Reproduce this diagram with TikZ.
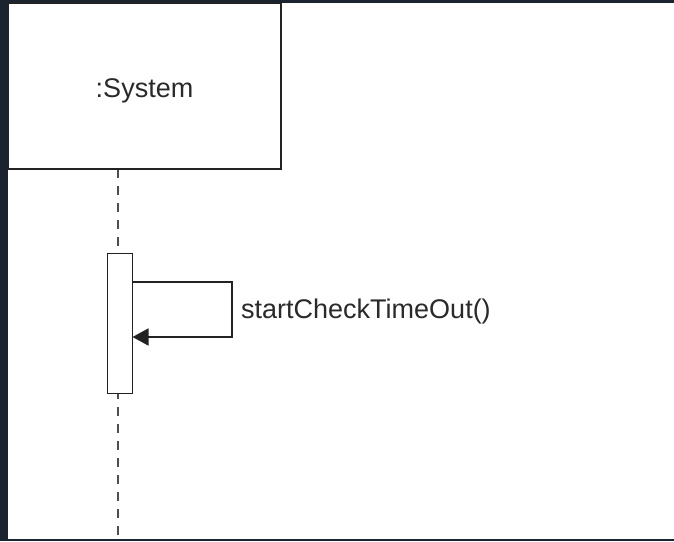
\documentclass[tikz,border=0pt]{standalone}
\usepackage{fontspec}
\setmainfont{Liberation Sans}
\usetikzlibrary{arrows.meta}
\definecolor{frame}{HTML}{1B2230}
\definecolor{ln}{HTML}{222222}
\definecolor{txt}{HTML}{2A2A2A}
\begin{document}
\begin{tikzpicture}[x=1pt,y=-1pt,
  objbox/.style={draw=ln,line width=1.8pt,fill=white},
  actbox/.style={draw=ln,line width=1.8pt,fill=white},
  lifeline/.style={draw=ln!80,line width=1.8pt,dash pattern=on 9pt off 8pt},
  msg/.style={draw=ln,line width=1.8pt,-{Triangle[length=16pt,width=17pt]}},
  lbl/.style={text=txt,font=\fontsize{27}{30}\selectfont,inner sep=0pt}]
\useasboundingbox (0,0) rectangle (674,541);
\fill[frame] (0,0) rectangle (674,541);
\fill[white] (8,3) rectangle (674,539);
% lifeline
\coordinate (top) at (118,169);
\coordinate (bot) at (118,541);
\draw[lifeline] (top) -- (bot);
% object box
\draw[objbox] (8,3) rectangle (281,169);
\node[lbl,anchor=base] (sys) at (144.5,97) {:System};
% activation
\draw[actbox] (107.5,253.5) rectangle (132.5,393.5);
\coordinate (s) at (132.5,282);
\coordinate (e) at (132.5,337);
\draw[msg] (s) -- (232,282) -- (232,337) -- (e);
\node[lbl,anchor=base west] (m) at (241,318) {startCheckTimeOut()};
\end{tikzpicture}
\end{document}
